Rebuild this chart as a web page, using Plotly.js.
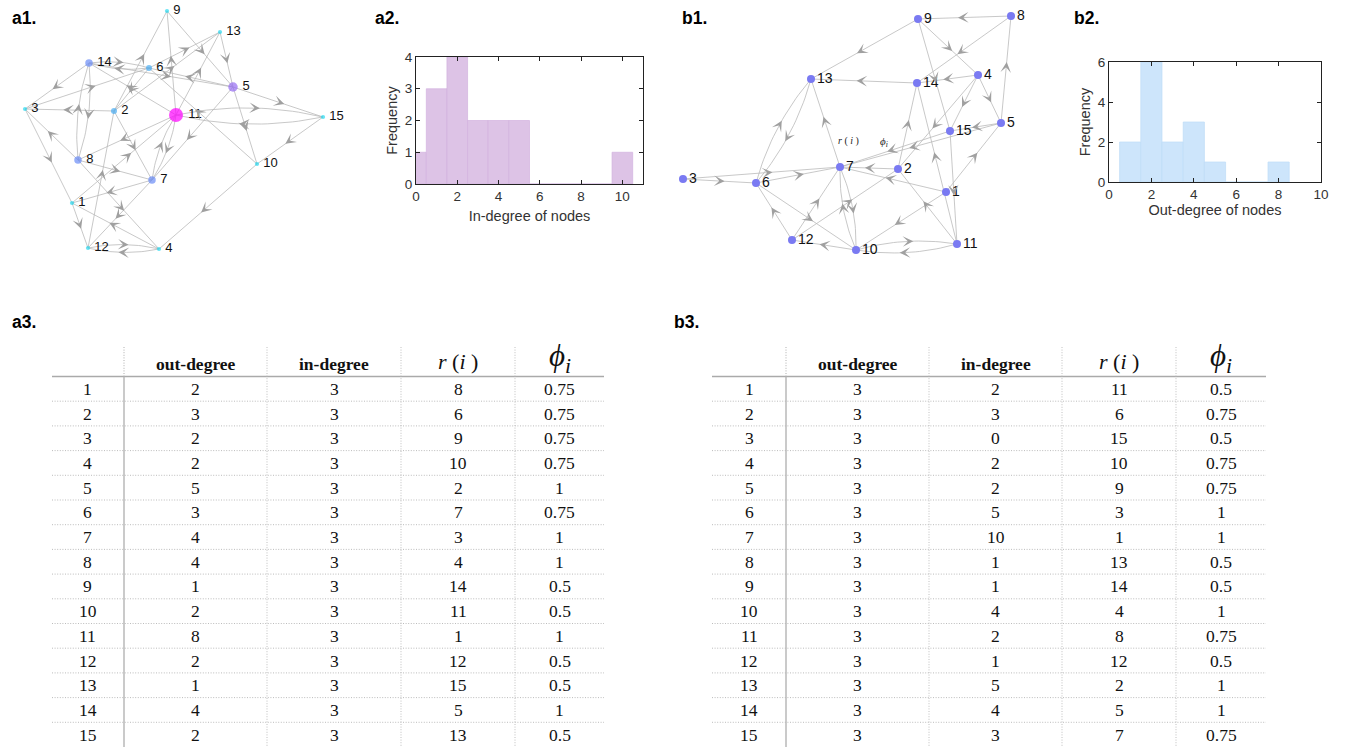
<!DOCTYPE html>
<html>
<head>
<meta charset="utf-8">
<script src="https://cdn.plot.ly/plotly-3.0.1.min.js"></script>
<style>
  html, body { margin: 0; padding: 0; background: #fff; }
  #chart { width: 1351px; height: 751px; }
</style>
</head>
<body>
<div id="chart"></div>
<script>
const W = 1351, H = 751;
const SANS = 'Liberation Sans, Arial, Helvetica, sans-serif';
const SERIF = 'Liberation Serif, Times New Roman, serif';

// ---------- network a1: node layout and directed edges ----------
const nodeIdsA = [1, 2, 3, 4, 5, 6, 7, 8, 9, 10, 11, 12, 13, 14, 15];
const nodeAX = [72, 114, 25, 159, 233, 149, 152, 78, 167, 257, 176, 88, 220, 89, 323];
const nodeAY = [203, 111, 109, 249, 87, 68, 180, 160, 11, 164, 115, 248, 32, 63, 117];
const edgeAFrom = [9, 13, 2, 11, 2, 11, 6, 14, 6, 5, 11, 14, 14, 8, 2, 8, 3, 3, 6, 2, 12, 10, 11, 15, 5, 5, 15, 10, 5, 11, 11, 7, 1, 8, 7, 8, 7, 1, 4, 12, 4, 14];
const edgeATo   = [5, 5, 9, 9, 13, 13, 13, 6, 14, 6, 14, 3, 8, 14, 3, 3, 1, 6, 2, 7, 2, 6, 15, 11, 15, 10, 10, 4, 7, 8, 7, 11, 11, 7, 1, 4, 12, 12, 1, 4, 12, 5];

// ---------- network b1: node layout and directed edges ----------
const nodeIdsB = [1, 2, 3, 4, 5, 6, 7, 8, 9, 10, 11, 12, 13, 14, 15];
const nodeBX = [946, 898, 683, 978, 1001, 756, 840, 1011, 918, 856, 957, 792, 811, 917, 950];
const nodeBY = [192, 169, 179, 75, 123, 183, 167, 16, 19, 250, 244, 240, 79, 83, 131];
const edgeBFrom = [8, 9, 9, 9, 8, 5, 14, 4, 4, 4, 4, 5, 5, 15, 1, 2, 11, 15, 2, 1, 11, 1, 11, 10, 13, 6, 7, 3, 3, 6, 12, 6, 12, 12, 7, 10, 10];
const edgeBTo   = [9, 13, 4, 15, 14, 8, 13, 14, 5, 15, 2, 15, 7, 7, 5, 14, 14, 11, 7, 7, 2, 10, 10, 11, 6, 13, 13, 6, 7, 7, 6, 10, 7, 2, 10, 7, 12];

// ---------- degree histograms ----------
const inDegreeBins = [0, 1, 2, 3, 4, 5, 6, 7, 8, 9, 10];
const inDegreeFreq = [1, 3, 4, 2, 2, 2, 0, 0, 0, 0, 1];
const outDegreeBins = [1, 2, 3, 4, 5, 6, 7, 8];
const outDegreeFreq = [2, 6, 2, 3, 1, 0, 0, 1];

// ---------- node statistics tables ----------
const rowIds = [1, 2, 3, 4, 5, 6, 7, 8, 9, 10, 11, 12, 13, 14, 15];
const outDegA = [2, 3, 2, 2, 5, 3, 4, 4, 1, 2, 8, 2, 1, 4, 2];
const inDegA  = [3, 3, 3, 3, 3, 3, 3, 3, 3, 3, 3, 3, 3, 3, 3];
const rankA   = [8, 6, 9, 10, 2, 7, 3, 4, 14, 11, 1, 12, 15, 5, 13];
const phiA    = [0.75, 0.75, 0.75, 0.75, 1, 0.75, 1, 1, 0.5, 0.5, 1, 0.5, 0.5, 1, 0.5];
const outDegB = [3, 3, 3, 3, 3, 3, 3, 3, 3, 3, 3, 3, 3, 3, 3];
const inDegB  = [2, 3, 0, 2, 2, 5, 10, 1, 1, 4, 2, 1, 5, 4, 3];
const rankB   = [11, 6, 15, 10, 9, 3, 1, 13, 14, 4, 8, 12, 2, 5, 7];
const phiB    = [0.5, 0.75, 0.5, 0.75, 0.75, 1, 1, 0.5, 0.5, 1, 0.75, 0.5, 1, 1, 0.75];

// ---------- helpers ----------
const px = x => x / W;
const py = y => 1 - y / H;

const traces = [];
const annotations = [];
const shapes = [];

const EDGE_COLOR = 'rgb(186,186,186)';
const HEAD_COLOR = 'rgb(160,160,160)';
const DOTS = '1px,1.6px';

// Edges: quadratic curves; reciprocal pairs bend apart, others stay straight.
function addNetwork(ids, xs, ys, from, to, xa, ya) {
  const idx = {};
  ids.forEach((id, i) => { idx[id] = i; });
  const pairs = new Set(from.map((f, k) => f + '-' + to[k]));
  const lx = [], ly = [];
  for (let k = 0; k < from.length; k++) {
    const a = idx[from[k]], b = idx[to[k]];
    const x0 = xs[a], y0 = ys[a], x1 = xs[b], y1 = ys[b];
    const dx = x1 - x0, dy = y1 - y0;
    const len = Math.hypot(dx, dy);
    const bend = pairs.has(to[k] + '-' + from[k]) ? 0.11 * len : 0;
    const cx = (x0 + x1) / 2 + bend * dy / len;
    const cy = (y0 + y1) / 2 - bend * dx / len;
    const pt = t => [
      (1 - t) * (1 - t) * x0 + 2 * (1 - t) * t * cx + t * t * x1,
      (1 - t) * (1 - t) * y0 + 2 * (1 - t) * t * cy + t * t * y1
    ];
    const n = bend ? 24 : 1;
    for (let s = 0; s <= n; s++) {
      const p = pt(s / n);
      lx.push(p[0]); ly.push(p[1]);
    }
    lx.push(null); ly.push(null);
    // arrowhead near the middle of the edge
    const t = 0.57;
    const tip = pt(t);
    const tx = 2 * (1 - t) * (cx - x0) + 2 * t * (x1 - cx);
    const ty = 2 * (1 - t) * (cy - y0) + 2 * t * (y1 - cy);
    const tl = Math.hypot(tx, ty);
    annotations.push({
      x: tip[0], y: tip[1], xref: xa, yref: ya,
      ax: tip[0] - 6 * tx / tl, ay: tip[1] - 6 * ty / tl, axref: xa, ayref: ya,
      text: '', showarrow: true, arrowhead: 3, arrowsize: 1.95, arrowwidth: 0.9,
      arrowcolor: HEAD_COLOR, standoff: 0
    });
  }
  traces.push({
    type: 'scatter', mode: 'lines', x: lx, y: ly,
    xaxis: xa, yaxis: ya, hoverinfo: 'skip', cliponaxis: false,
    line: { color: EDGE_COLOR, width: 0.8 }
  });
}

addNetwork(nodeIdsA, nodeAX, nodeAY, edgeAFrom, edgeATo, 'x', 'y');
addNetwork(nodeIdsB, nodeBX, nodeBY, edgeBFrom, edgeBTo, 'x3', 'y3');

// node colour and size follow out-degree in network a1
function degColor(d) {
  if (d >= 8) return 'rgb(255,0,255)';
  if (d >= 5) return 'rgb(150,108,242)';
  if (d >= 4) return 'rgb(106,140,246)';
  if (d >= 3) return 'rgb(72,172,242)';
  return 'rgb(38,216,240)';
}
function degSize(d) {
  if (d >= 8) return 14;
  if (d >= 5) return 9.5;
  if (d >= 4) return 7.5;
  if (d >= 3) return 6;
  return 4.2;
}

traces.push({
  type: 'scatter', mode: 'markers+text', x: nodeAX, y: nodeAY,
  xaxis: 'x', yaxis: 'y', cliponaxis: false, hoverinfo: 'skip',
  text: nodeIdsA.map(v => '\u2009' + v), textposition: 'middle right',
  textfont: { family: SANS, size: 13, color: '#111' },
  marker: { color: outDegA.map(degColor), size: outDegA.map(degSize), line: { width: 0 } }
});
traces.push({
  type: 'scatter', mode: 'markers+text', x: nodeBX, y: nodeBY,
  xaxis: 'x3', yaxis: 'y3', cliponaxis: false, hoverinfo: 'skip',
  text: nodeIdsB.map(String), textposition: 'middle right',
  textfont: { family: SANS, size: 14, color: '#111' },
  marker: { color: 'rgb(122,122,242)', size: 8, line: { width: 0 } }
});

// histograms
traces.push({
  type: 'bar', x: inDegreeBins, y: inDegreeFreq, width: 1,
  xaxis: 'x2', yaxis: 'y2', hoverinfo: 'skip',
  marker: { color: 'rgb(221,195,230)', line: { color: 'rgb(210,178,223)', width: 0.7 } }
});
traces.push({
  type: 'bar', x: outDegreeBins, y: outDegreeFreq, width: 1,
  xaxis: 'x4', yaxis: 'y4', hoverinfo: 'skip',
  marker: { color: 'rgb(205,229,251)', line: { color: 'rgb(190,221,248)', width: 0.7 } }
});

// formula labels placed in the b1 drawing
annotations.push({ x: px(849), y: py(133), xref: 'paper', yref: 'paper', showarrow: false,
  text: '<i>r</i> ( <i>i</i> )', font: { family: SERIF, size: 10, color: '#222' } });
annotations.push({ x: px(884), y: py(133), xref: 'paper', yref: 'paper', showarrow: false,
  text: '<i>ϕ<sub>i</sub></i>', font: { family: SERIF, size: 11, color: '#222' } });

// panel labels
[['a1.', 10, 18], ['a2.', 373, 18], ['b1.', 680, 18], ['b2.', 1072, 18], ['a3.', 10, 322], ['b3.', 672, 322]]
  .forEach(([t, x, y]) => annotations.push({
    x: px(x), y: py(y), xref: 'paper', yref: 'paper', xanchor: 'left', yanchor: 'middle',
    showarrow: false, text: '<b>' + t + '</b>', font: { family: SANS, size: 17.5, color: '#000' }
  }));

// tables
function addTable(bounds, cols) {
  const left = bounds[0], right = bounds[bounds.length - 1];
  const headY = 362, lineY = 376.5, rowH = 24.7, topY = 347;
  const bottom = lineY + rowH * 15;
  const centers = [];
  for (let c = 0; c < bounds.length - 1; c++) centers.push((bounds[c] + bounds[c + 1]) / 2);
  // header underline
  shapes.push({ type: 'line', xref: 'paper', yref: 'paper', x0: px(left), x1: px(right),
    y0: py(lineY), y1: py(lineY), line: { color: 'rgb(170,170,170)', width: 1.6 } });
  // row label separator (dotted in header, solid in body)
  shapes.push({ type: 'line', xref: 'paper', yref: 'paper', x0: px(bounds[1]), x1: px(bounds[1]),
    y0: py(topY), y1: py(lineY), line: { color: 'rgb(175,175,175)', width: 1, dash: DOTS } });
  shapes.push({ type: 'line', xref: 'paper', yref: 'paper', x0: px(bounds[1]), x1: px(bounds[1]),
    y0: py(lineY), y1: py(bottom), line: { color: 'rgb(180,180,180)', width: 1.4 } });
  for (let c = 2; c < bounds.length - 1; c++) {
    shapes.push({ type: 'line', xref: 'paper', yref: 'paper', x0: px(bounds[c]), x1: px(bounds[c]),
      y0: py(topY), y1: py(bottom), line: { color: 'rgb(185,185,185)', width: 0.9, dash: DOTS } });
  }
  for (let r = 1; r < 15; r++) {
    const y = lineY + r * rowH;
    shapes.push({ type: 'line', xref: 'paper', yref: 'paper', x0: px(left), x1: px(right),
      y0: py(y), y1: py(y), line: { color: 'rgb(180,180,180)', width: 0.9, dash: DOTS } });
  }
  const headers = [
    ['<b>out-degree</b>', 17.5, 2],
    ['<b>in-degree</b>', 17.5, 2],
    ['<i>r</i> (<i>i</i> )', 22, -1],
    ['<i>ϕ<sub>i</sub></i>', 31, -4]
  ];
  headers.forEach(([t, s, dy], k) => annotations.push({
    x: px(centers[k + 1]), y: py(headY + dy), xref: 'paper', yref: 'paper', showarrow: false,
    xanchor: 'center', yanchor: 'middle', text: t, font: { family: SERIF, size: s, color: '#111' }
  }));
  for (let r = 0; r < 15; r++) {
    const y = lineY + (r + 0.5) * rowH;
    const vals = [rowIds[r]].concat(cols.map(col => col[r]));
    vals.forEach((v, c) => annotations.push({
      x: px(centers[c]), y: py(y), xref: 'paper', yref: 'paper', showarrow: false,
      xanchor: 'center', yanchor: 'middle', text: String(v),
      font: { family: SERIF, size: 17.5, color: '#111' }
    }));
  }
}
addTable([52, 124, 267, 401, 515, 604], [outDegA, inDegA, rankA, phiA]);
addTable([712, 786, 929, 1062, 1176, 1266], [outDegB, inDegB, rankB, phiB]);

// axes
const hidden = { visible: false, showgrid: false, zeroline: false, fixedrange: true };
const frameAxis = {
  showline: true, linecolor: '#222', linewidth: 1, mirror: 'ticks',
  ticks: 'inside', ticklen: 4, tickcolor: '#222', showgrid: false, zeroline: false,
  tickfont: { family: SANS, size: 13.5, color: '#333' }, fixedrange: true
};
const titleFont = { family: SANS, size: 14.5, color: '#333' };

const layout = {
  width: W, height: H, autosize: false,
  margin: { l: 0, r: 0, t: 0, b: 0, pad: 0 },
  paper_bgcolor: '#fff', plot_bgcolor: 'rgba(0,0,0,0)',
  showlegend: false, bargap: 0,
  font: { family: SANS },
  xaxis: Object.assign({}, hidden, { domain: [0, px(360)], range: [0, 360], anchor: 'y' }),
  yaxis: Object.assign({}, hidden, { domain: [py(270), 1], range: [270, 0], anchor: 'x' }),
  xaxis3: Object.assign({}, hidden, { domain: [px(660), px(1060)], range: [660, 1060], anchor: 'y3' }),
  yaxis3: Object.assign({}, hidden, { domain: [py(270), 1], range: [270, 0], anchor: 'x3' }),
  xaxis2: Object.assign({}, frameAxis, {
    domain: [px(416), px(643)], range: [0, 11], anchor: 'y2', tickvals: [0, 2, 4, 6, 8, 10],
    title: { text: 'In-degree of nodes', font: titleFont, standoff: 7 }
  }),
  yaxis2: Object.assign({}, frameAxis, {
    domain: [py(184), py(57)], range: [0, 4], anchor: 'x2', tickvals: [0, 1, 2, 3, 4],
    title: { text: 'Frequency', font: titleFont, standoff: 3 }
  }),
  xaxis4: Object.assign({}, frameAxis, {
    domain: [px(1109), px(1321)], range: [0, 10], anchor: 'y4', tickvals: [0, 2, 4, 6, 8, 10],
    title: { text: 'Out-degree of nodes', font: titleFont, standoff: 3 }
  }),
  yaxis4: Object.assign({}, frameAxis, {
    domain: [py(182), py(62)], range: [0, 6], anchor: 'x4', tickvals: [0, 2, 4, 6],
    title: { text: 'Frequency', font: titleFont, standoff: 3 }
  }),
  annotations: annotations,
  shapes: shapes
};

Plotly.newPlot('chart', traces, layout, { staticPlot: true, displayModeBar: false });
</script>
</body>
</html>
